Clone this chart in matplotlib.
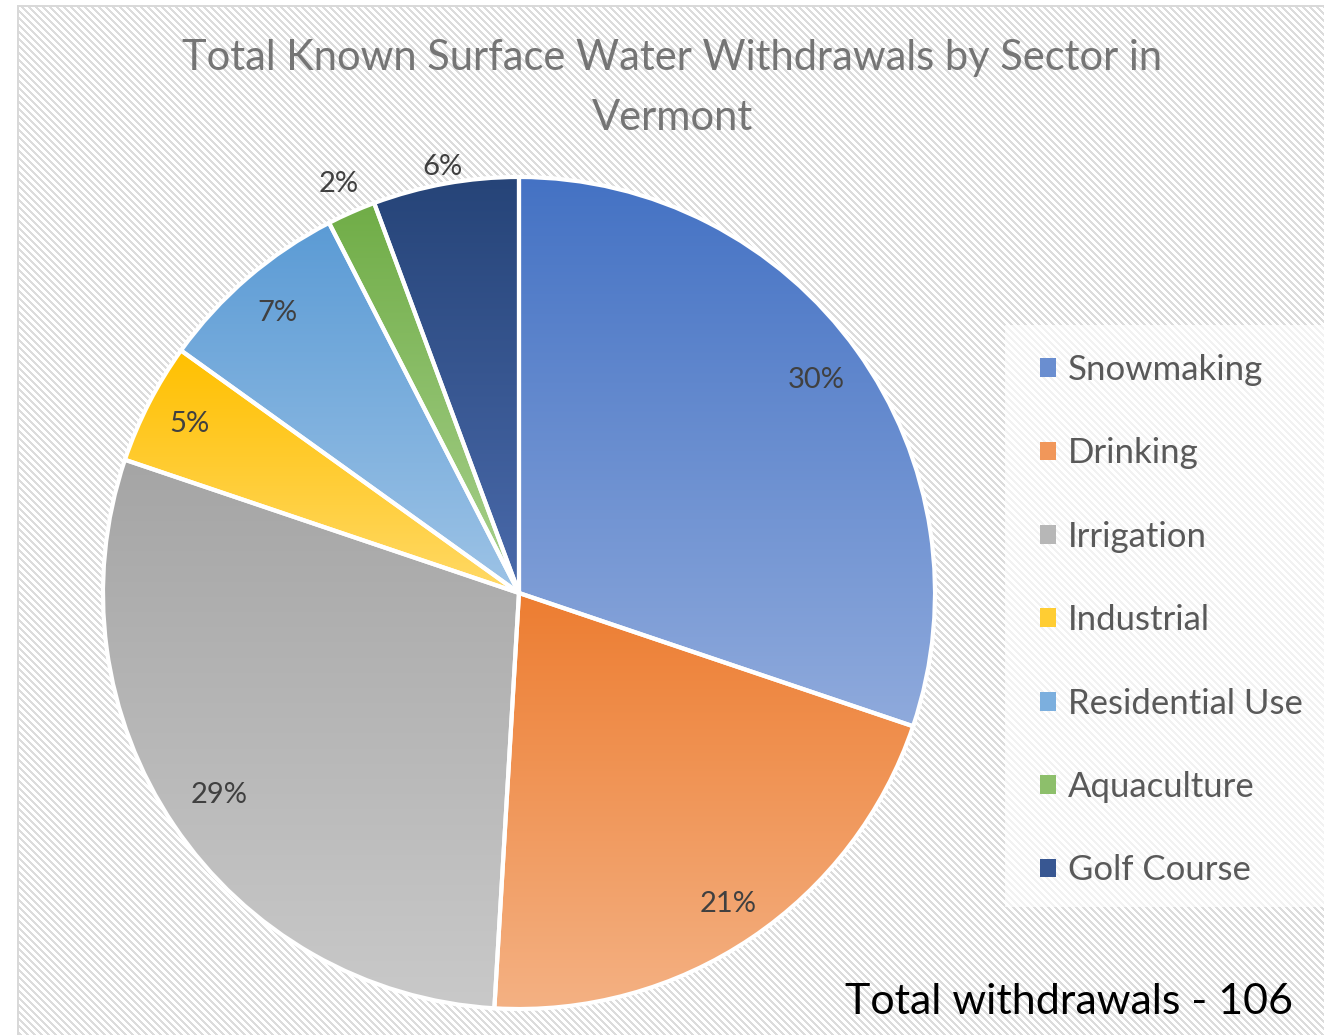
import numpy as np
import matplotlib
matplotlib.use("Agg")
import matplotlib.pyplot as plt
from matplotlib.colors import to_rgb
from matplotlib.patches import Rectangle, Patch

# ---------------- data ----------------
sectors = ["Snowmaking", "Drinking", "Irrigation", "Industrial",
           "Residential Use", "Aquaculture", "Golf Course"]
counts = [32, 22, 31, 5, 8, 2, 6]
pct_labels = ["30%", "21%", "29%", "5%", "7%", "2%", "6%"]
total_label = "Total withdrawals - 106"
title = "Total Known Surface Water Withdrawals by Sector in\nVermont"

top_colors = ["#4472C4", "#ED7D31", "#A5A5A5", "#FFC000",
              "#5B9BD5", "#70AD47", "#264478"]
bottom_colors = ["#8FAADC", "#F4B183", "#C9C9C9", "#FFD966",
                 "#9DC3E6", "#A9D18E", "#4A6AAB"]
# radial distance of each label (fraction of radius)
label_dist = [0.88, 0.90, 0.87, 0.89, 0.89, 1.075, 1.04]

W, H = 1324, 1035
DPI = 100
plt.rcParams['font.family'] = ['Lato', 'DejaVu Sans']

fig = plt.figure(figsize=(W / DPI, H / DPI), dpi=DPI)
fig.patch.set_facecolor("white")

# hatched background (diagonal stripes)
yy, xx = np.mgrid[0:H, 0:W]
bg = np.ones((H, W, 3))
stripe = ((xx - yy) % 7) < 3
bg[stripe] = to_rgb("#DCDCDC")
bg[:, :17] = 1.0
bg[:5, :] = 1.0
bg[5:7, 17:] = to_rgb("#D9D9D9")
bg[5:, 17:19] = to_rgb("#D9D9D9")
fig.figimage(bg, xo=0, yo=0, origin="upper", zorder=0)

# legend background (semi-transparent white)
fig.patches.append(Rectangle((1005 / W, (H - 907) / H), (W - 1005) / W, (907 - 325) / H,
                             transform=fig.transFigure, facecolor="white",
                             alpha=0.65, edgecolor="none", zorder=1))

# pie axes
cx, cy, R = 519, 593, 416
ax = fig.add_axes([(cx - R) / W, (H - cy - R) / H, 2 * R / W, 2 * R / H])
ax.set_zorder(2)
ax.patch.set_visible(False)

wedges, _ = ax.pie(counts, startangle=90, counterclock=False, radius=1,
                   wedgeprops=dict(edgecolor="white", linewidth=3))

for w, c_top, c_bot in zip(wedges, top_colors, bottom_colors):
    ext = w.get_path().get_extents()
    t = np.linspace(0, 1, 256)[:, None, None]
    grad = (1 - t) * np.array(to_rgb(c_top))[None, None, :] + t * np.array(to_rgb(c_bot))[None, None, :]
    im = ax.imshow(grad, extent=[ext.x0, ext.x1, ext.y0, ext.y1], origin="upper",
                   aspect="auto", interpolation="bilinear", zorder=1)
    im.set_clip_path(w)
    w.set_facecolor("none")
    w.set_zorder(2)

ax.set_xlim(-1, 1)
ax.set_ylim(-1, 1)
ax.set_aspect("auto")
ax.axis("off")

# percentage labels
for w, lab, d in zip(wedges, pct_labels, label_dist):
    mid = np.deg2rad((w.theta1 + w.theta2) / 2)
    ax.text(d * np.cos(mid), d * np.sin(mid), lab, ha="center", va="center",
            fontsize=21, color="#404040", zorder=5)

# title
fig.text(672 / W, 1 - 88 / H, title, ha="center", va="center", fontsize=30,
         color="#757575", linespacing=1.68)

# legend
handles = [Patch(facecolor=tuple((np.array(to_rgb(a)) + np.array(to_rgb(b))) / 2), edgecolor="none")
           for a, b in zip(top_colors, bottom_colors)]
leg = fig.legend(handles, sectors, loc="upper left",
                 bbox_to_anchor=(1040 / W, 1 - 354 / H), frameon=False,
                 fontsize=25, labelcolor="#595959", handlelength=0.46,
                 handleheight=0.46, handletextpad=0.34, labelspacing=1.48,
                 borderpad=0, borderaxespad=0)

# total withdrawals
fig.text(1293 / W, 1 - 1002 / H, total_label, ha="right", va="center",
         fontsize=31, color="black")

fig.savefig("out.png", dpi=DPI)
